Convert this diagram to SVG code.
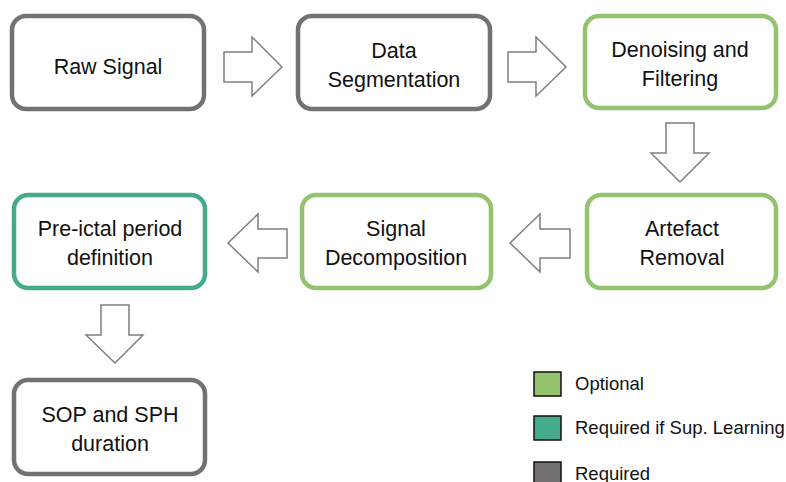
<svg xmlns="http://www.w3.org/2000/svg" width="786" height="482" viewBox="0 0 786 482">
  <style>
    .box { fill: #ffffff; stroke-width: 4.5; }
    .req { stroke: #767171; }
    .opt { stroke: #93C36F; }
    .sup { stroke: #44AA8B; }
    .lbl { font-family: "Liberation Sans", Arial, sans-serif; font-size: 21.5px; fill: #111111; text-anchor: middle; }
    .arrow { fill: #ffffff; stroke: #7f7f7f; stroke-width: 1.5; stroke-linejoin: miter; }
    .key { stroke: #111111; stroke-width: 1.5; }
    .keytxt { font-family: "Liberation Sans", Arial, sans-serif; font-size: 18.5px; fill: #111111; }
  </style>
  <rect width="786" height="482" fill="#ffffff"/>

  <g id="connectors">
    <!-- right arrows -->
    <path class="arrow" d="M224,52 H252 V37 L282,67 L252,96 V82 H224 Z"/>
    <path class="arrow" d="M508,52 H536 V37 L566,67 L536,96 V82 H508 Z"/>
    <!-- down arrow between Denoising and Artefact -->
    <path class="arrow" d="M666,123 H694 V153 H709 L680,182 L651,153 H666 Z"/>
    <!-- left arrows -->
    <path class="arrow" d="M570,229 H540 V214 L510,243 L540,272 V258 H570 Z"/>
    <path class="arrow" d="M287,229 H258 V214 L228,243 L258,272 V258 H287 Z"/>
    <!-- down arrow between Pre-ictal and SOP -->
    <path class="arrow" d="M101,305 H129 V335 H143 L115,363 L86,335 H101 Z"/>
  </g>

  <g id="raw-signal">
    <rect class="box req" x="12" y="16" width="192" height="93" rx="14"/>
    <text class="lbl" x="108" y="74">Raw Signal</text>
  </g>
  <g id="data-segmentation">
    <rect class="box req" x="298" y="16" width="192" height="93" rx="14"/>
    <text class="lbl" x="394" y="58">Data</text>
    <text class="lbl" x="394" y="87">Segmentation</text>
  </g>
  <g id="denoising-filtering">
    <rect class="box opt" x="585" y="16" width="191" height="92" rx="14"/>
    <text class="lbl" x="680" y="57">Denoising  and</text>
    <text class="lbl" x="680" y="86">Filtering</text>
  </g>
  <g id="artefact-removal">
    <rect class="box opt" x="587" y="195" width="189" height="93" rx="14"/>
    <text class="lbl" x="682" y="236">Artefact</text>
    <text class="lbl" x="682" y="265">Removal</text>
  </g>
  <g id="signal-decomposition">
    <rect class="box opt" x="302" y="195" width="189" height="93" rx="14"/>
    <text class="lbl" x="396" y="236">Signal</text>
    <text class="lbl" x="396" y="265">Decomposition</text>
  </g>
  <g id="pre-ictal-definition">
    <rect class="box sup" x="14" y="195" width="191" height="93" rx="14"/>
    <text class="lbl" x="110" y="236">Pre-ictal period</text>
    <text class="lbl" x="110" y="265">definition</text>
  </g>
  <g id="sop-sph-duration">
    <rect class="box req" x="14" y="380" width="191" height="94" rx="14"/>
    <text class="lbl" x="110" y="422">SOP and SPH</text>
    <text class="lbl" x="110" y="451">duration</text>
  </g>

  <g id="legend">
    <rect class="key" x="534" y="372" width="27" height="24" fill="#93C36F"/>
    <text class="keytxt" x="575" y="390">Optional</text>
    <rect class="key" x="534" y="416" width="27" height="24" fill="#44AA8B"/>
    <text class="keytxt" x="575" y="434">Required if Sup. Learning</text>
    <rect class="key" x="534" y="462" width="27" height="24" fill="#767171"/>
    <text class="keytxt" x="575" y="480">Required</text>
  </g>
</svg>
